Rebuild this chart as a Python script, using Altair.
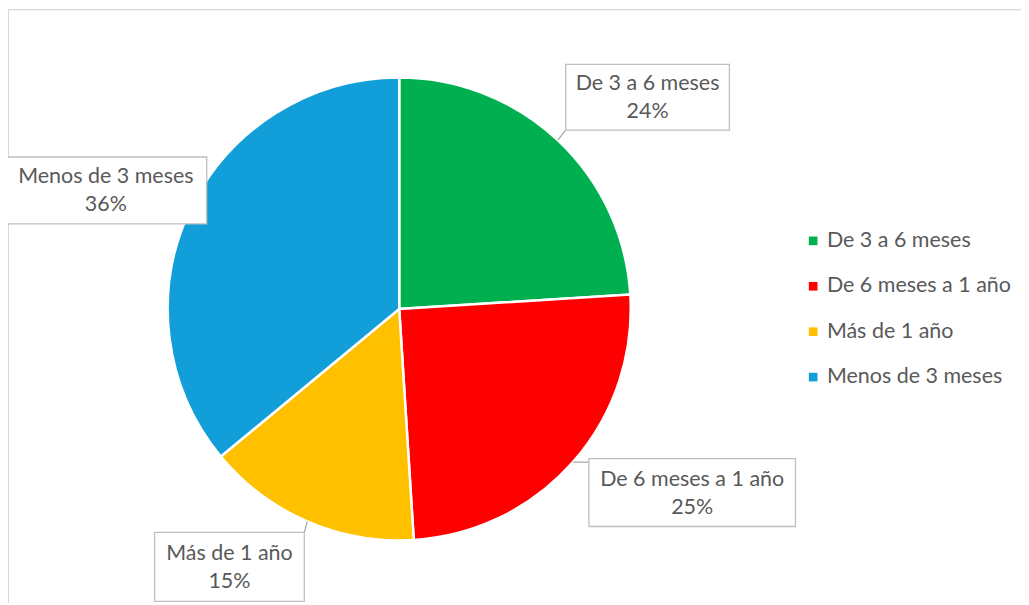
import math
import altair as alt
import pandas as pd

# ---- data ----
categories = ["De 3 a 6 meses", "De 6 meses a 1 año", "Más de 1 año", "Menos de 3 meses"]
values = [24, 25, 15, 36]
colors = ["#00B050", "#FF0000", "#FFC000", "#129FD9"]

# ---- layout / style (pixels in chart coordinates) ----
W, H = 1015, 595
CX, CY, R = 392, 301, 232
label_offsets = [(90, -43), (119.5, 30.5), (-78, 45.5), (-84, -20)]
box_sizes = [(164, 66), (207, 68), (150, 69), (202, 67)]
FONT = "Lato"
FS = 21.5
TXT = "#595959"

total = sum(values)
rows = []
cum = 0
for i, (c, v) in enumerate(zip(categories, values)):
    mid = (cum + v / 2) / total * 2 * math.pi
    cum += v
    ax = CX + R * math.sin(mid)
    ay = CY - R * math.cos(mid)
    dx, dy = label_offsets[i]
    bw, bh = box_sizes[i]
    bx, by = ax + dx, ay + dy
    x0, x1 = bx - bw / 2, bx + bw / 2
    y0, y1 = by - bh / 2, by + bh / 2
    ex = min(max(ax, x0), x1)
    ey = min(max(ay, y0), y1)
    rows.append(dict(cat=c, val=v, order=i, pct=f"{round(v / total * 100)}%",
                     ax=ax, ay=ay, ex=ex, ey=ey, bx=bx, by=by,
                     x0=x0, x1=x1, y0=y0, y1=y1))
df = pd.DataFrame(rows)

xs = alt.Scale(domain=[0, W], range=[0, W], nice=False, zero=False)
ys = alt.Scale(domain=[0, H], range=[0, H], nice=False, zero=False)

base = alt.Chart(df)

pie = base.mark_arc(outerRadius=R, stroke="white", strokeWidth=2.5, x=CX, y=CY).encode(
    theta=alt.Theta("val:Q", stack=True),
    order=alt.Order("order:Q"),
    color=alt.Color(
        "cat:N",
        scale=alt.Scale(domain=categories, range=colors),
        sort=categories,
        legend=alt.Legend(
            title=None, orient="none", legendX=796, legendY=222,
            symbolType="square", symbolSize=75, symbolStrokeWidth=0,
            labelFont=FONT, labelFontSize=FS, labelColor=TXT,
            rowPadding=22.5, labelOffset=3, labelLimit=400,
        ),
    ),
)

callouts = base.mark_rule(color="#A6A6A6", strokeWidth=1.2).encode(
    x=alt.X("ax:Q", scale=xs, axis=None),
    y=alt.Y("ay:Q", scale=ys, axis=None),
    x2="ex:Q",
    y2="ey:Q",
)

boxes = base.mark_rect(fill="white", stroke="#BFBFBF", strokeWidth=1.3).encode(
    x=alt.X("x0:Q", scale=xs, axis=None),
    x2="x1:Q",
    y=alt.Y("y0:Q", scale=ys, axis=None),
    y2="y1:Q",
)

names = base.mark_text(font=FONT, fontSize=FS, color=TXT, dy=-13).encode(
    x=alt.X("bx:Q", scale=xs, axis=None),
    y=alt.Y("by:Q", scale=ys, axis=None),
    text="cat:N",
)
pcts = base.mark_text(font=FONT, fontSize=FS, color=TXT, dy=15).encode(
    x=alt.X("bx:Q", scale=xs, axis=None),
    y=alt.Y("by:Q", scale=ys, axis=None),
    text="pct:N",
)

top_border = alt.Chart(df).mark_rule(color="#D9D9D9", strokeWidth=1).encode(
    x=alt.value(0), x2=alt.value(W), y=alt.value(1)
)
left_border = alt.Chart(df).mark_rule(color="#D9D9D9", strokeWidth=1).encode(
    x=alt.value(0.5), y=alt.value(1), y2=alt.value(H)
)

chart = alt.layer(top_border, left_border, pie, callouts, boxes, names, pcts).properties(
    width=W, height=H, autosize=alt.AutoSizeParams(type="none"), padding=0
).configure_view(stroke=None)

chart.save("out.html", embed_options={"renderer": "svg", "actions": False})
